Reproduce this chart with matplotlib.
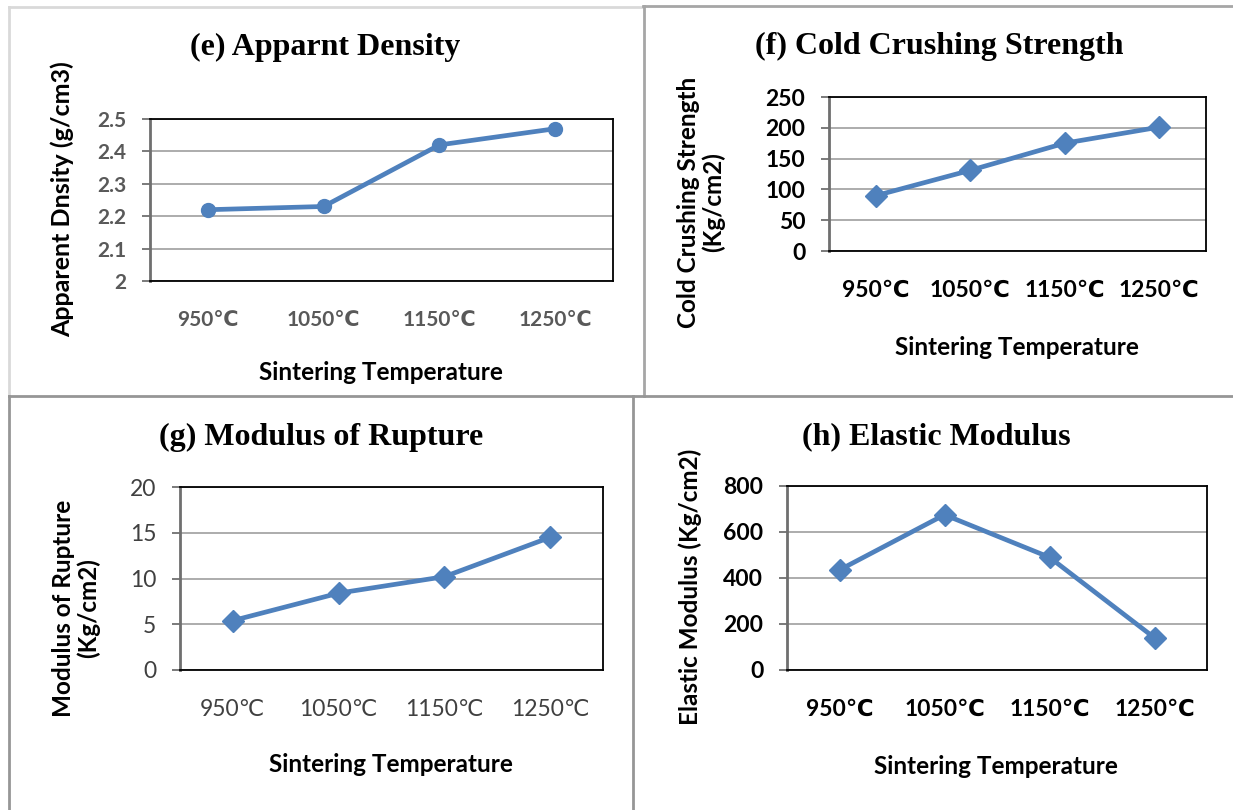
import matplotlib
matplotlib.use("Agg")
import matplotlib.pyplot as plt
from matplotlib.lines import Line2D

# ---------------- data ----------------
temperatures = ["950℃", "1050℃", "1150℃", "1250℃"]
apparent_density = [2.22, 2.23, 2.42, 2.47]
cold_crushing = [90, 131, 175, 201]
modulus_rupture = [5.4, 8.4, 10.2, 14.5]
elastic_modulus = [435, 675, 490, 140]

density_ticks = [2, 2.1, 2.2, 2.3, 2.4, 2.5]
density_ticklabels = ["2", "2.1", "2.2", "2.3", "2.4", "2.5"]
ccs_ticks = [0, 50, 100, 150, 200, 250]
mor_ticks = [0, 5, 10, 15, 20]
em_ticks = [0, 200, 400, 600, 800]

titles = ["(e) Apparnt Density", "(f) Cold Crushing Strength",
          "(g) Modulus of Rupture", "(h) Elastic Modulus"]
ylabels = ["Apparent Dnsity (g/cm3)", "Cold Crushing Strength\n(Kg/cm2)",
           "Modulus of Rupture\n(Kg/cm2)", "Elastic Modulus (Kg/cm2)"]
xlabel = "Sintering Temperature"

# ---------------- figure ----------------
W, H = 1233, 810
fig = plt.figure(figsize=(W / 100, H / 100), dpi=100)
fig.patch.set_facecolor("white")

SANS = ["Lato", "DejaVu Sans"]
SERIF = ["Liberation Serif", "DejaVu Serif"]
LINE = "#4f81bd"


def fx(x):
    return x / W


def fy(y):
    return 1 - y / H


def panel(rect, x_vals, y_vals, yticks, yticklabels, marker, msize,
          tick_color, tick_weight, tick_size, title, title_xy,
          ylab, ylab_xy, xlab_xy, ylab_size=17.5):
    l, t, r, b = rect
    ax = fig.add_axes([fx(l), fy(b), (r - l) / W, (b - t) / H])
    ax.plot(range(len(x_vals)), y_vals, color=LINE, lw=3.4,
            marker=marker, markersize=msize, markerfacecolor=LINE,
            markeredgecolor=LINE, zorder=3, solid_capstyle="round",
            solid_joinstyle="round")
    ax.set_xlim(-0.5, len(x_vals) - 0.5)
    ax.set_ylim(yticks[0], yticks[-1])
    ax.set_yticks(yticks)
    ax.set_yticklabels(yticklabels)
    ax.set_xticks(range(len(x_vals)))
    ax.set_xticklabels(x_vals)
    ax.yaxis.grid(True, color="#a6a6a6", lw=1.3)
    ax.set_axisbelow(True)
    for s in ("top", "right", "bottom"):
        ax.spines[s].set_color("black")
        ax.spines[s].set_linewidth(1.3)
    ax.spines["left"].set_color("#6f6f6f")
    ax.spines["left"].set_linewidth(2.0)
    ax.tick_params(axis="y", direction="out", length=6, width=1.3,
                   color="#6f6f6f", pad=11, labelsize=tick_size,
                   labelcolor=tick_color)
    ax.tick_params(axis="x", length=0, pad=21, labelsize=tick_size,
                   labelcolor=tick_color)
    for lab in ax.get_xticklabels() + ax.get_yticklabels():
        lab.set_family(SANS)
        lab.set_fontweight(tick_weight)
    fig.text(fx(title_xy[0]), fy(title_xy[1]), title, family=SERIF,
             fontweight="bold", fontsize=23, ha="center", va="center")
    fig.text(fx(ylab_xy[0]), fy(ylab_xy[1]), ylab, family=SANS,
             fontweight="bold", fontsize=ylab_size, ha="center", va="center",
             rotation=90, linespacing=1.1, multialignment="center")
    fig.text(fx(xlab_xy[0]), fy(xlab_xy[1]), xlabel, family=SANS,
             fontweight="bold", fontsize=17.5, ha="center", va="center")
    return ax


panel((150, 119, 613, 281), temperatures, apparent_density, density_ticks,
      density_ticklabels, "o", 10, "#595959", "bold", 15,
      titles[0], (325, 47), ylabels[0], (62, 199), (381, 372),
      ylab_size=18)

panel((829, 97, 1206, 251), temperatures, cold_crushing, ccs_ticks,
      [str(v) for v in ccs_ticks], "D", 11.5, "black", "bold", 16.5,
      titles[1], (939, 46), ylabels[1], (701, 202), (1017, 347))

panel((180, 487, 603, 670), temperatures, modulus_rupture, mor_ticks,
      [str(v) for v in mor_ticks], "D", 11.5, "#404040", "normal", 16.5,
      titles[2], (321, 437), ylabels[2], (76, 608), (391, 765))

panel((787, 486, 1207, 670), temperatures, elastic_modulus, em_ticks,
      [str(v) for v in em_ticks], "D", 11.5, "black", "bold", 16.5,
      titles[3], (936, 437), ylabels[3], (690, 587), (996, 767))

# ---------------- panel frames (decoration) ----------------
def frame_line(x0, y0, x1, y1, color, lw=2.0):
    fig.add_artist(Line2D([fx(x0), fx(x1)], [fy(y0), fy(y1)],
                          color=color, lw=lw, transform=fig.transFigure))

frame_line(9, 7, 643, 7, "#d9d9d9")
frame_line(9, 7, 9, 396, "#d9d9d9")
frame_line(643, 6, 1233, 6, "#a6a6a6")
frame_line(644, 6, 644, 396, "#a6a6a6")
frame_line(9, 396, 1233, 396, "#969696")
frame_line(9, 396, 9, 810, "#969696")
frame_line(633, 396, 633, 810, "#969696")

fig.savefig("out.png", dpi=100, facecolor="white")
